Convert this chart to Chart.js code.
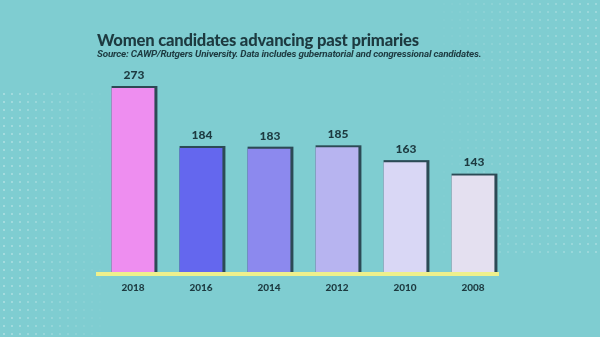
<!DOCTYPE html>
<html>
<head>
<meta charset="utf-8">
<script src="https://cdn.jsdelivr.net/npm/chart.js@4"></script>
<style>
  html, body { margin: 0; padding: 0; }
  body { width: 600px; height: 337px; background: #7fcdd1; position: relative; overflow: hidden; }
  .dots {
    position: absolute; inset: 0;
    background-image: radial-gradient(circle, rgba(255,255,255,0.3) 1px, transparent 1.4px);
    background-size: 8px 8px;
  }
  .dots.left { -webkit-mask-image: linear-gradient(90deg, #000 0, rgba(0,0,0,0.5) 60px, transparent 110px); mask-image: linear-gradient(90deg, #000 0, rgba(0,0,0,0.5) 60px, transparent 110px); top: 90px; }
  .dots.right { -webkit-mask-image: linear-gradient(270deg, rgba(0,0,0,0.8) 0, rgba(0,0,0,0.4) 100px, transparent 170px); mask-image: linear-gradient(270deg, rgba(0,0,0,0.8) 0, rgba(0,0,0,0.4) 100px, transparent 170px); bottom: 80px; }
  #title { position: absolute; left: 97px; top: 30px; font: 900 16.6px Lato, sans-serif; color: #1d3a40; letter-spacing: -0.2px; }
  #sub { position: absolute; left: 97px; top: 48px; font: italic 700 9.9px Roboto, sans-serif; color: #1d3a40; letter-spacing: -0.2px; }
  #wrap { position: absolute; left: 0; top: 0; width: 600px; height: 337px; }
</style>
</head>
<body>
<div class="dots left"></div>
<div class="dots right"></div>
<div id="wrap"><canvas id="chart" width="600" height="337"></canvas></div>
<div id="title">Women candidates advancing past primaries</div>
<div id="sub">Source: CAWP/Rutgers University. Data includes gubernatorial and congressional candidates.</div>
<script>
const years = ['2018', '2016', '2014', '2012', '2010', '2008'];
const candidates = [273, 184, 183, 185, 163, 143];
const barColors = ['#ee8ef0', '#6467ee', '#8c89ee', '#b7b4f0', '#d9d7f5', '#e4e0f0'];

const ink = '#1d3a40';

const barDecor = {
  id: 'barDecor',
  beforeDatasetsDraw(chart) {
    const ctx = chart.ctx;
    const meta = chart.getDatasetMeta(0);
    ctx.save();
    ctx.fillStyle = '#2c4a55';
    meta.data.forEach(bar => {
      const w = bar.width;
      ctx.fillRect(bar.x - w / 2, bar.y - 2, w + 3, bar.base - bar.y + 2);
    });
    // yellow baseline
    const area = chart.chartArea;
    ctx.fillStyle = '#eef08c';
    ctx.fillRect(area.left - 3, area.bottom, area.right - area.left - 5, 4);
    ctx.restore();
  },
  afterDatasetsDraw(chart) {
    const ctx = chart.ctx;
    const meta = chart.getDatasetMeta(0);
    ctx.save();
    ctx.fillStyle = ink;
    ctx.font = '900 12px Lato, sans-serif';
    ctx.textAlign = 'center';
    ctx.textBaseline = 'bottom';
    meta.data.forEach((bar, i) => {
      ctx.fillText(String(candidates[i]), bar.x + 1, bar.y - 7);
    });
    ctx.restore();
  }
};

new Chart(document.getElementById('chart'), {
  type: 'bar',
  data: {
    labels: years,
    datasets: [{
      data: candidates,
      backgroundColor: barColors,
      borderWidth: 0,
      categoryPercentage: 1,
      barPercentage: 0.63
    }]
  },
  options: {
    responsive: false,
    animation: false,
    devicePixelRatio: 1,
    layout: { padding: { left: 99, right: 93, top: 88, bottom: 0 } },
    plugins: { legend: { display: false }, tooltip: { enabled: false } },
    scales: {
      x: {
        grid: { display: false },
        border: { display: false },
        ticks: { color: ink, font: { family: 'Lato', weight: '900', size: 10 }, padding: 2 },
        afterFit(axis) { axis.height = 65; }
      },
      y: {
        display: false,
        min: 0,
        max: 273
      }
    }
  },
  plugins: [barDecor]
});
</script>
</body>
</html>
